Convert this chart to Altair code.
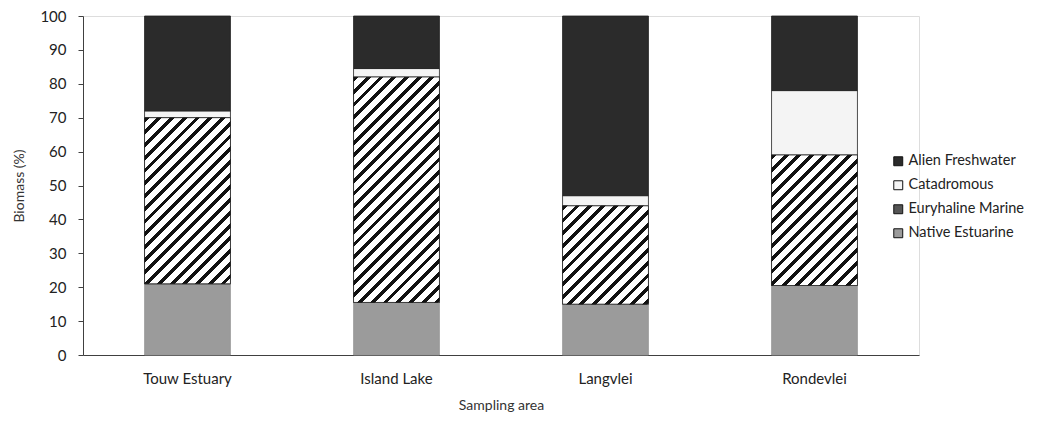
import altair as alt
import pandas as pd
import math

sites = ["Touw Estuary", "Island Lake", "Langvlei", "Rondevlei"]
groups = ["Alien Freshwater", "Catadromous", "Euryhaline Marine", "Native Estuarine"]
native = [21.0, 15.5, 15.0, 20.5]
euryhaline = [49.0, 66.5, 29.0, 38.5]
catadromous = [2.0, 2.5, 3.0, 19.0]
alien = [28.0, 15.5, 53.0, 22.0]
y_ticks = list(range(0, 101, 10))

colors = ["#2b2b2b", "#f4f4f4", "#555555", "#9b9b9b"]

rows = []
for i, s in enumerate(sites):
    base = 0.0
    for g, vals in [("Native Estuarine", native), ("Euryhaline Marine", euryhaline),
                    ("Catadromous", catadromous), ("Alien Freshwater", alien)]:
        v = vals[i]
        rows.append({"site": s, "group": g, "value": v, "y0": base, "y1": base + v})
        base += v
df = pd.DataFrame(rows)

W, H = 836, 339
step = W / len(sites)
pad_inner = 0.589
bar_w = step * (1 - pad_inner)

FONT = "Lato"

x_enc = alt.X("site:N", sort=sites,
              scale=alt.Scale(paddingInner=pad_inner, paddingOuter=pad_inner / 2),
              axis=alt.Axis(title="Sampling area", labelAngle=0, ticks=False,
                            labelPadding=16, titlePadding=12, labelFontSize=15,
                            titleFontSize=14, domainColor="#404040",
                            labelColor="#222", titleColor="#333",
                            labelFont=FONT, titleFont=FONT, titleFontWeight="normal"))
y_enc = alt.Y("y0:Q", scale=alt.Scale(domain=[0, 100], nice=False),
              axis=alt.Axis(title="Biomass (%)", values=y_ticks, labelOverlap=False,
                            tickSize=5, tickColor="#404040", domainColor="#404040",
                            labelPadding=12, titlePadding=13, labelFontSize=15,
                            titleFontSize=14, grid=False, labelColor="#222",
                            titleColor="#333", labelFont=FONT, titleFont=FONT,
                            titleFontWeight="normal"))

base = alt.Chart(df).mark_bar(strokeWidth=0.8).encode(
    x=x_enc,
    y=y_enc,
    y2="y1:Q",
    fill=alt.Fill("group:N", sort=groups,
                  scale=alt.Scale(domain=groups, range=colors),
                  legend=alt.Legend(title=None, orient="none", legendX=808, legendY=138,
                                    symbolType="square", symbolSize=80,
                                    symbolStrokeColor="#111", symbolStrokeWidth=1,
                                    labelFontSize=14.5, labelFont=FONT, labelColor="#222",
                                    rowPadding=9, labelOffset=3)),
    stroke=alt.condition(alt.datum.group == "Native Estuarine",
                         alt.value("#9b9b9b"), alt.value("#222222")),
)


def hatch(h_px, w_px, period=9.0, frac=0.38):
    k = (w_px + h_px) / (w_px ** 2 + h_px ** 2)
    a, b = k * w_px, k * h_px
    dt = period * math.sqrt(2) / (w_px + h_px)
    stops = []
    t = 0.0
    while t < 1.0:
        t1 = min(t + frac * dt, 1.0)
        t2 = min(t + dt, 1.0)
        stops += [alt.GradientStop(offset=t, color="#111111"),
                  alt.GradientStop(offset=t1, color="#111111"),
                  alt.GradientStop(offset=t1, color="#ffffff"),
                  alt.GradientStop(offset=t2, color="#ffffff")]
        t += dt
    return alt.LinearGradient(gradient="linear", stops=stops, x1=0, y1=0, x2=a, y2=b)


layers = [base]
for i, s in enumerate(sites):
    h_px = euryhaline[i] * H / 100.0
    lay = alt.Chart(df).transform_filter(
        (alt.datum.site == s) & (alt.datum.group == "Euryhaline Marine")
    ).mark_bar(fill=hatch(h_px, bar_w), stroke="#222222", strokeWidth=0.8).encode(
        x=x_enc, y=y_enc, y2="y1:Q")
    layers.append(lay)

chart = alt.layer(*layers).properties(
    width=W, height=H,
    padding={"left": 4, "top": 1, "right": 5, "bottom": 5},
).configure_view(stroke=None).configure(background="white")

chart.save("out.html", embed_options={"renderer": "svg", "actions": False})
